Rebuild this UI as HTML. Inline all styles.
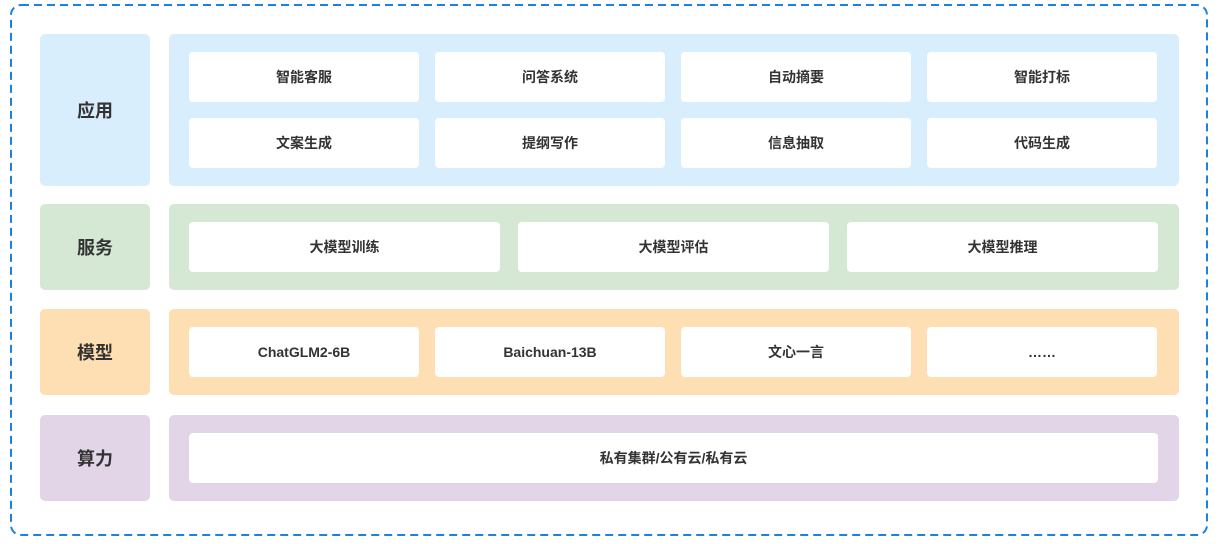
<!DOCTYPE html>
<html><head><meta charset="utf-8"><style>
body{margin:0;width:1218px;height:544px;background:#fff;position:relative;font-family:"Liberation Sans","Noto Sans CJK SC",sans-serif;color:#333;overflow:hidden}
.b{position:absolute;display:flex;align-items:center;justify-content:center;border-radius:5px;font-weight:bold}
.l{font-size:18px}
.w{background:#fff;font-size:14px;border-radius:4px}
</style></head><body>
<svg style="position:absolute;left:0;top:0" width="1218" height="544"><rect x="11" y="5" width="1196" height="530" rx="10" fill="none" stroke="#1a82e2" stroke-width="2" stroke-dasharray="8 5"/></svg>

<div class="b l" style="left:40px;top:34px;width:110px;height:152px;background:#d9eefc">应用</div>
<div class="b" style="left:169px;top:34px;width:1010px;height:152px;background:#d9eefc"></div>
<div class="b w" style="left:189px;top:52px;width:230px;height:50px">智能客服</div>
<div class="b w" style="left:435px;top:52px;width:230px;height:50px">问答系统</div>
<div class="b w" style="left:681px;top:52px;width:230px;height:50px">自动摘要</div>
<div class="b w" style="left:927px;top:52px;width:230px;height:50px">智能打标</div>
<div class="b w" style="left:189px;top:118px;width:230px;height:50px">文案生成</div>
<div class="b w" style="left:435px;top:118px;width:230px;height:50px">提纲写作</div>
<div class="b w" style="left:681px;top:118px;width:230px;height:50px">信息抽取</div>
<div class="b w" style="left:927px;top:118px;width:230px;height:50px">代码生成</div>

<div class="b l" style="left:40px;top:204px;width:110px;height:86px;background:#d5e8d4">服务</div>
<div class="b" style="left:169px;top:204px;width:1010px;height:86px;background:#d5e8d4"></div>
<div class="b w" style="left:189px;top:222px;width:311px;height:50px">大模型训练</div>
<div class="b w" style="left:518px;top:222px;width:311px;height:50px">大模型评估</div>
<div class="b w" style="left:847px;top:222px;width:311px;height:50px">大模型推理</div>

<div class="b l" style="left:40px;top:309px;width:110px;height:86px;background:#fedeb3">模型</div>
<div class="b" style="left:169px;top:309px;width:1010px;height:86px;background:#fedeb3"></div>
<div class="b w" style="left:189px;top:327px;width:230px;height:50px">ChatGLM2-6B</div>
<div class="b w" style="left:435px;top:327px;width:230px;height:50px">Baichuan-13B</div>
<div class="b w" style="left:681px;top:327px;width:230px;height:50px">文心一言</div>
<div class="b w" style="left:927px;top:327px;width:230px;height:50px">……</div>

<div class="b l" style="left:40px;top:415px;width:110px;height:86px;background:#e1d5e7">算力</div>
<div class="b" style="left:169px;top:415px;width:1010px;height:86px;background:#e1d5e7"></div>
<div class="b w" style="left:189px;top:433px;width:969px;height:50px">私有集群/公有云/私有云</div>
</body></html>
